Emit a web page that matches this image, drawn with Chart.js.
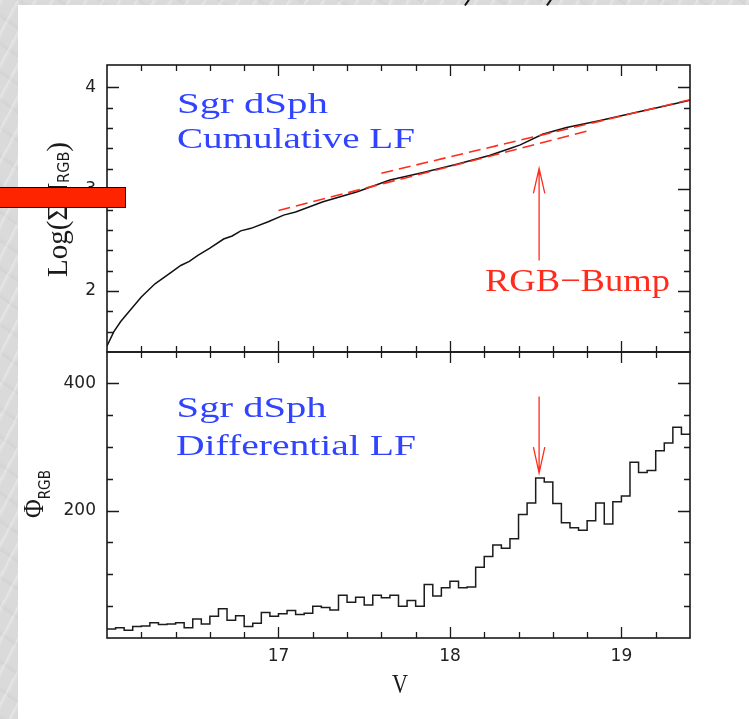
<!DOCTYPE html>
<html>
<head>
<meta charset="utf-8">
<script src="https://cdn.jsdelivr.net/npm/chart.js@4.4.1/dist/chart.umd.min.js"></script>
<style>
html,body{margin:0;padding:0;width:749px;height:719px;overflow:hidden;}
#bg{position:absolute;left:0;top:0;width:749px;height:719px;background-color:#dadada;
background-image:repeating-linear-gradient(118deg,rgba(255,255,255,0.35) 0px,rgba(255,255,255,0) 4px,rgba(255,255,255,0) 15px),
repeating-linear-gradient(35deg,rgba(170,170,170,0.15) 0px,rgba(170,170,170,0) 5px,rgba(170,170,170,0) 23px);}
#panel{position:absolute;left:18px;top:5px;width:731px;height:714px;background:#fff;}
.cw{position:absolute;left:0;top:0;width:749px;height:719px;}
#redbar{position:absolute;left:-3px;top:187px;width:129px;height:21px;background:#ff2400;border:1.5px solid #000;box-sizing:border-box;z-index:5;}
.stroke{position:absolute;top:-1px;width:1.5px;height:7px;background:#111;transform:rotate(35deg);}
</style>
</head>
<body>
<div id="bg"></div>
<div id="panel"></div>
<div class="stroke" style="left:466px"></div>
<div class="stroke" style="left:548px"></div>
<div class="cw"><canvas id="top"></canvas></div>
<div class="cw"><canvas id="bot"></canvas></div>
<div id="redbar"></div>
<script>
// ---------------- DATA ----------------
// Differential LF: bin start magnitudes (bin width 0.05 mag) and counts
const vBins = [16.00,16.05,16.10,16.15,16.20,16.25,16.30,16.35,16.40,16.45,
               16.50,16.55,16.60,16.65,16.70,16.75,16.80,16.85,16.90,16.95,
               17.00,17.05,17.10,17.15,17.20,17.25,17.30,17.35,17.40,17.45,
               17.50,17.55,17.60,17.65,17.70,17.75,17.80,17.85,17.90,17.95,
               18.00,18.05,18.10,18.15,18.20,18.25,18.30,18.35,18.40,18.45,
               18.50,18.55,18.60,18.65,18.70,18.75,18.80,18.85,18.90,18.95,
               19.00,19.05,19.10,19.15,19.20,19.25,19.30,19.35];
const binWidth = 0.05;
const phiRGB = [14,16,12,18,19,24,21,22,24,16,
                30,22,34,46,28,35,18,23,40,34,
                38,43,37,39,50,48,44,67,56,64,
                52,67,63,67,50,59,50,84,66,79,
                89,79,80,111,128,146,141,156,194,212,
                251,245,211,181,173,169,184,212,179,214,
                223,276,260,263,294,306,331,320];
// Cumulative LF (log of cumulative counts)
const cumV   = [16.00,16.04,16.08,16.13,16.20,16.28,16.38,16.43,16.48,16.53,16.60,16.68,16.73,16.78,16.84,16.94,17.03,17.10,17.26,17.46,17.65,17.85,18.04,18.23,18.35,18.41,18.54,18.68,18.87,19.07,19.26,19.40];
const cumLog = [1.46,1.60,1.70,1.80,1.94,2.07,2.19,2.25,2.29,2.35,2.42,2.51,2.54,2.59,2.615,2.68,2.745,2.775,2.877,2.975,3.09,3.166,3.245,3.33,3.40,3.435,3.54,3.606,3.672,3.748,3.82,3.875];
// Linear fits (dashed)
const fitBrightV = [17.0, 18.8];
const fitBrightLog = [2.79, 3.57];
const fitFaintV = [17.6, 19.4];
const fitFaintLog = [3.157, 3.879];
// RGB bump position
const bumpV = 18.52;
const topArrowLog = [2.30, 3.205];
const botArrowPhi = [379, 259];
// Tick positions and labels
const xTickValues = [16.2,16.4,16.6,16.8,17.0,17.2,17.4,17.6,17.8,18.0,18.2,18.4,18.6,18.8,19.0,19.2];
const xTickLabels = [17, 18, 19];
const yTopTickValues = [1.6,1.8,2.0,2.2,2.4,2.6,2.8,3.0,3.2,3.4,3.6,3.8,4.0];
const yTopTickLabels = [2, 3, 4];
const yBotTickValues = [50,100,150,200,250,300,350,400];
const yBotTickLabels = [200, 400];

// ---------------- HELPERS ----------------
const BLUE = '#3044ff', RED = '#ff2c1e', INK = '#1a1a1a';
function drawStretched(ctx, text, x, y, font, color, targetW, align) {
  ctx.save();
  ctx.font = font;
  const w = ctx.measureText(text).width;
  const s = targetW / w;
  ctx.translate(align === 'center' ? x - targetW / 2 : x, y);
  ctx.scale(s, 1);
  ctx.fillStyle = color;
  ctx.textAlign = 'left';
  ctx.textBaseline = 'alphabetic';
  ctx.fillText(text, 0, 0);
  ctx.restore();
}
function drawRotTitle(ctx, parts, x0, y0, totalLen) {
  ctx.save();
  ctx.translate(x0, y0);
  ctx.rotate(-Math.PI / 2);
  let nat = 0;
  parts.forEach(p => { ctx.font = p.font; p.w = ctx.measureText(p.text).width; nat += p.w; });
  ctx.scale(totalLen / nat, 1);
  ctx.fillStyle = INK;
  ctx.textBaseline = 'alphabetic';
  let cx = 0;
  parts.forEach(p => { ctx.font = p.font; ctx.fillText(p.text, cx, p.dy); cx += p.w; });
  ctx.restore();
}
function arrow(ctx, x, y0, y1, headLen, halfW, color) {
  const dir = Math.sign(y1 - y0);
  ctx.save();
  ctx.strokeStyle = color; ctx.lineWidth = 1.3;
  ctx.beginPath();
  ctx.moveTo(x, y0); ctx.lineTo(x, y1);
  ctx.moveTo(x - halfW, y1 - dir * headLen); ctx.lineTo(x, y1); ctx.lineTo(x + halfW, y1 - dir * headLen);
  ctx.stroke();
  ctx.restore();
}
const near = (a, b) => Math.abs(a - b) < 1e-6;
const isInt = v => near(v, Math.round(v));
const setTicks = list => s => { s.ticks = list.map(v => ({value: v})); };
const labelIf = list => v => list.some(t => near(t, v)) ? String(Math.round(v)) : '';

function makeFrameTicks(yMajor) {
  return {
    id: 'frameTicks',
    afterDatasetsDraw(chart) {
      const {ctx, chartArea: a, scales} = chart;
      const xs = scales.x, ys = scales.y;
      ctx.save();
      ctx.strokeStyle = INK; ctx.lineWidth = 1.3;
      ctx.beginPath();
      xs.ticks.forEach(t => {
        const v = t.value;
        const px = Math.round(xs.getPixelForValue(v)) + 0.5;
        const L = isInt(v) ? 11 : 6;
        ctx.moveTo(px, a.top); ctx.lineTo(px, a.top + L);
        ctx.moveTo(px, a.bottom); ctx.lineTo(px, a.bottom - L);
      });
      ys.ticks.forEach(t => {
        const v = t.value;
        const py = Math.round(ys.getPixelForValue(v)) + 0.5;
        const L = isInt(v / yMajor) ? 12 : 6;
        ctx.moveTo(a.left, py); ctx.lineTo(a.left + L, py);
        ctx.moveTo(a.right, py); ctx.lineTo(a.right - L, py);
      });
      ctx.stroke();
      ctx.lineWidth = 1.6;
      ctx.strokeRect(a.left, a.top, a.right - a.left, a.bottom - a.top);
      ctx.restore();
    }
  };
}

const topAnnot = {
  id: 'topAnnot',
  afterDraw(chart) {
    const {ctx, scales: {x, y}} = chart;
    const f = '29px "Liberation Serif", serif';
    drawStretched(ctx, 'Sgr dSph', x.getPixelForValue(16.408), y.getPixelForValue(3.745), f, BLUE, 151);
    drawStretched(ctx, 'Cumulative LF', x.getPixelForValue(16.408), y.getPixelForValue(3.402), f, BLUE, 238);
    drawStretched(ctx, 'RGB\u2212Bump', x.getPixelForValue(18.204), y.getPixelForValue(2.0), '32px "Liberation Serif", serif', RED, 185);
    arrow(ctx, x.getPixelForValue(bumpV), y.getPixelForValue(topArrowLog[0]), y.getPixelForValue(topArrowLog[1]), 25, 5.7, RED);
    drawRotTitle(ctx, [
      {text: 'Log(\u03A3N', font: '30px "Liberation Serif", serif', dy: 0},
      {text: 'RGB', font: '15px "DejaVu Sans", sans-serif', dy: 2},
      {text: ')', font: '30px "Liberation Serif", serif', dy: 0}
    ], 66.5, 277, 135);
  }
};
const botAnnot = {
  id: 'botAnnot',
  afterDraw(chart) {
    const {ctx, scales: {x, y}} = chart;
    const f = '29px "Liberation Serif", serif';
    drawStretched(ctx, 'Sgr dSph', x.getPixelForValue(16.406), y.getPixelForValue(347), f, BLUE, 150);
    drawStretched(ctx, 'Differential LF', x.getPixelForValue(16.402), y.getPixelForValue(287), f, BLUE, 240);
    arrow(ctx, x.getPixelForValue(bumpV), y.getPixelForValue(botArrowPhi[0]), y.getPixelForValue(botArrowPhi[1]), 26, 5.7, RED);
    drawRotTitle(ctx, [
      {text: '\u03A6', font: '30px "Liberation Serif", serif', dy: 0},
      {text: 'RGB', font: '16px "DejaVu Sans", sans-serif', dy: 7}
    ], 43, 518, 48);
    drawStretched(ctx, 'V', 400, 693, '27px "Liberation Serif", serif', INK, 16, 'center');
  }
};

const tickFont = {family: '"DejaVu Sans", sans-serif', size: 17};
const common = {
  animation: false, responsive: true, maintainAspectRatio: false, events: [],
  plugins: {legend: {display: false}, tooltip: {enabled: false}},
  elements: {point: {radius: 0}, line: {tension: 0}}
};

// ---------------- TOP CHART ----------------
new Chart(document.getElementById('top'), {
  type: 'line',
  data: {
    datasets: [
      {data: fitBrightV.map((v, i) => ({x: v, y: fitBrightLog[i]})), borderColor: RED, borderWidth: 1.6, borderDash: [12, 6], order: 0},
      {data: fitFaintV.map((v, i) => ({x: v, y: fitFaintLog[i]})), borderColor: RED, borderWidth: 1.6, borderDash: [12, 6], order: 0},
      {data: cumV.map((v, i) => ({x: v, y: cumLog[i]})), borderColor: '#111', borderWidth: 1.5, order: 1}
    ]
  },
  options: Object.assign({}, common, {
    layout: {padding: {left: 0, right: 59, top: 65, bottom: 367}},
    scales: {
      x: {type: 'linear', min: 16.0, max: 19.4, display: true,
          grid: {display: false, drawTicks: false}, border: {display: false},
          ticks: {display: false, autoSkip: false},
          afterBuildTicks: setTicks(xTickValues),
          afterFit: s => { s.height = 0; }},
      y: {type: 'linear', min: 1.4, max: 4.22,
          grid: {display: false, drawTicks: false}, border: {display: false},
          ticks: {autoSkip: false, padding: 11, color: '#222', font: tickFont,
                  callback: labelIf(yTopTickLabels)},
          afterBuildTicks: setTicks(yTopTickValues),
          afterFit: s => { s.width = 107; }}
    }
  }),
  plugins: [makeFrameTicks(1), topAnnot]
});

// ---------------- BOTTOM CHART ----------------
const histPts = vBins.map((v, i) => ({x: v, y: phiRGB[i]}));
histPts.push({x: vBins[vBins.length - 1] + binWidth, y: phiRGB[phiRGB.length - 1]});
new Chart(document.getElementById('bot'), {
  type: 'line',
  data: {datasets: [{data: histPts, stepped: 'before', borderColor: '#1c1c1c', borderWidth: 1.5}]},
  options: Object.assign({}, common, {
    layout: {padding: {left: 0, right: 59, top: 352, bottom: 0}},
    scales: {
      x: {type: 'linear', min: 16.0, max: 19.4,
          grid: {display: false, drawTicks: false}, border: {display: false},
          ticks: {autoSkip: false, maxRotation: 0, padding: 8, color: '#222', font: tickFont,
                  callback: labelIf(xTickLabels)},
          afterBuildTicks: setTicks(xTickValues),
          afterFit: s => { s.height = 81; }},
      y: {type: 'linear', min: 0, max: 449,
          grid: {display: false, drawTicks: false}, border: {display: false},
          ticks: {autoSkip: false, padding: 11, color: '#222', font: tickFont,
                  callback: labelIf(yBotTickLabels)},
          afterBuildTicks: setTicks(yBotTickValues),
          afterFit: s => { s.width = 107; }}
    }
  }),
  plugins: [makeFrameTicks(200), botAnnot]
});
</script>
</body>
</html>
